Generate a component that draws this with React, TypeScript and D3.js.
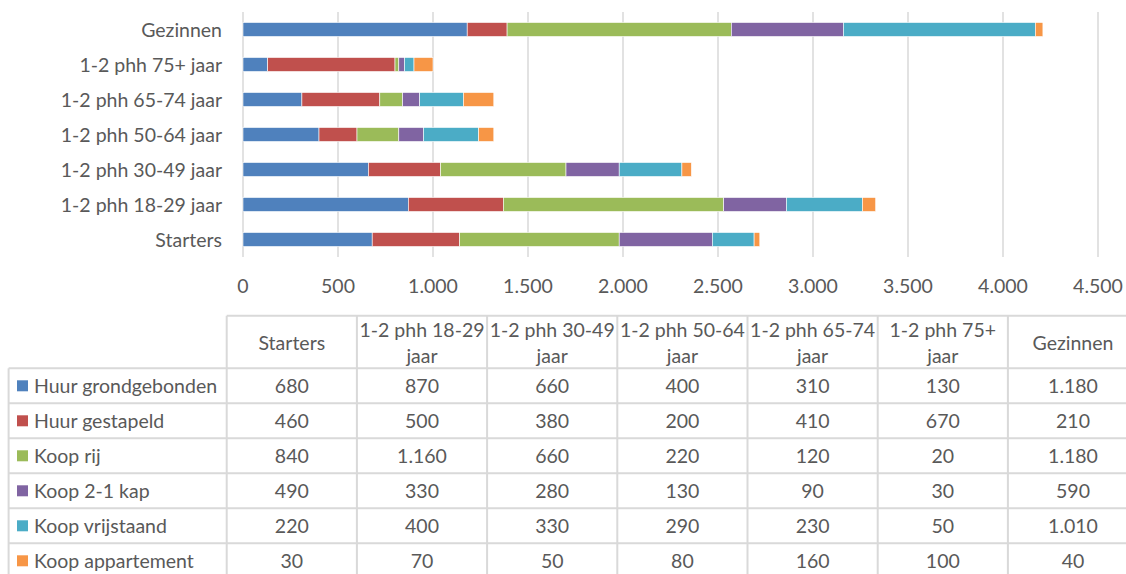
import React from 'react';
import * as d3 from 'd3';

// ---- data ----
const categories = [
  'Starters',
  '1-2 phh 18-29 jaar',
  '1-2 phh 30-49 jaar',
  '1-2 phh 50-64 jaar',
  '1-2 phh 65-74 jaar',
  '1-2 phh 75+ jaar',
  'Gezinnen',
];
const seriesNames = [
  'Huur grondgebonden',
  'Huur gestapeld',
  'Koop rij',
  'Koop 2-1 kap',
  'Koop vrijstaand',
  'Koop appartement',
];
const huurGrondgebonden = [680, 870, 660, 400, 310, 130, 1180];
const huurGestapeld = [460, 500, 380, 200, 410, 670, 210];
const koopRij = [840, 1160, 660, 220, 120, 20, 1180];
const koop21Kap = [490, 330, 280, 130, 90, 30, 590];
const koopVrijstaand = [220, 400, 330, 290, 230, 50, 1010];
const koopAppartement = [30, 70, 50, 80, 160, 100, 40];
const seriesValues = [huurGrondgebonden, huurGestapeld, koopRij, koop21Kap, koopVrijstaand, koopAppartement];
const xTicks = [0, 500, 1000, 1500, 2000, 2500, 3000, 3500, 4000, 4500];
const colors = ['#4F81BD', '#C0504D', '#9BBB59', '#8064A2', '#4BACC6', '#F79646'];

// ---- styling / layout ----
const W = 1126;
const H = 574;
const FONT = 'Lato, "Open Sans", sans-serif';
const FS = 19.5;
const TEXT = '#595959';
const GRID = '#D9D9D9';

const nl = d3.formatLocale({ decimal: ',', thousands: '.', grouping: [3], currency: ['€', ''] });
const fmt = nl.format(',d');

function wrapHeader(s: string): string[] {
  const words = s.split(' ');
  if (s.length > 12 && words.length > 1) {
    return [words.slice(0, -1).join(' '), words[words.length - 1]];
  }
  return [s];
}

export default function App() {
  const x = d3.scaleLinear().domain([0, 4500]).range([243, 1098]);
  const y = d3
    .scaleBand<string>()
    .domain([...categories].reverse())
    .range([12, 257])
    .paddingInner(0.6)
    .paddingOuter(0.3);

  const rows = categories.map((c, i) => {
    const r: any = { category: c };
    seriesNames.forEach((s, j) => (r[s] = seriesValues[j][i]));
    return r;
  });
  const stacked = d3.stack<any>().keys(seriesNames)(rows);

  // table layout
  const labelX0 = 8.6;
  const colX0 = 226.7;
  const colW = 130.2;
  const headTop = 315.7;
  const headBottom = 368.3;
  const rowH = 35;
  const nCols = categories.length;
  const tableRight = colX0 + colW * nCols;
  const tableBottom = headBottom + rowH * seriesNames.length;

  return (
    <svg
      width={W}
      height={H}
      style={{ position: 'absolute', left: 0, top: 0, background: '#fff' }}
      fontFamily={FONT}
    >
      {/* gridlines */}
      {xTicks.map((t) => (
        <line key={'g' + t} x1={x(t)} x2={x(t)} y1={12} y2={257} stroke={GRID} strokeWidth={1.5} />
      ))}
      {/* bars */}
      {stacked.map((layer, si) => (
        <g key={layer.key} fill={colors[si]}>
          {layer.map((d, ci) => (
            <rect
              key={ci}
              x={x(d[0])}
              y={y(d.data.category)}
              width={Math.max(0, x(d[1]) - x(d[0]))}
              height={y.bandwidth()}
              stroke="#fff"
              strokeWidth={0.6}
            />
          ))}
        </g>
      ))}
      {/* category labels */}
      {categories.map((c) => (
        <text
          key={'c' + c}
          x={222}
          y={(y(c) as number) + y.bandwidth() / 2}
          textAnchor="end"
          dominantBaseline="central"
          fontSize={FS}
          fill={TEXT}
        >
          {c}
        </text>
      ))}
      {/* x tick labels */}
      {xTicks.map((t) => (
        <text key={'t' + t} x={x(t)} y={285} textAnchor="middle" dominantBaseline="central" fontSize={FS} fill={TEXT}>
          {fmt(t)}
        </text>
      ))}

      {/* table lines */}
      <g stroke={GRID} strokeWidth={2}>
        <line x1={colX0} x2={tableRight} y1={headTop} y2={headTop} />
        {d3.range(seriesNames.length + 1).map((i) => (
          <line key={'h' + i} x1={labelX0} x2={tableRight} y1={headBottom + i * rowH} y2={headBottom + i * rowH} />
        ))}
        <line x1={labelX0} x2={labelX0} y1={headBottom} y2={tableBottom} />
        {d3.range(nCols + 1).map((j) => (
          <line key={'v' + j} x1={colX0 + j * colW} x2={colX0 + j * colW} y1={headTop} y2={tableBottom} />
        ))}
      </g>
      {/* header */}
      {categories.map((c, j) => {
        const lines = wrapHeader(c);
        const cx = colX0 + j * colW + colW / 2;
        const cy = (headTop + headBottom) / 2;
        const lh = 26;
        return (
          <text key={'hd' + c} textAnchor="middle" fontSize={FS} fill={TEXT}>
            {lines.map((l, k) => (
              <tspan key={k} x={cx} y={cy + (k - (lines.length - 1) / 2) * lh} dominantBaseline="central">
                {l}
              </tspan>
            ))}
          </text>
        );
      })}
      {/* rows */}
      {seriesNames.map((s, i) => {
        const cy = headBottom + i * rowH + rowH / 2;
        return (
          <g key={'r' + s}>
            <rect x={17} y={cy - 5.5} width={11} height={11} fill={colors[i]} />
            <text x={34} y={cy} dominantBaseline="central" fontSize={FS} fill={TEXT}>
              {s}
            </text>
            {categories.map((c, j) => (
              <text
                key={c}
                x={colX0 + j * colW + colW / 2}
                y={cy}
                textAnchor="middle"
                dominantBaseline="central"
                fontSize={FS}
                fill={TEXT}
              >
                {fmt(seriesValues[i][j])}
              </text>
            ))}
          </g>
        );
      })}
    </svg>
  );
}
